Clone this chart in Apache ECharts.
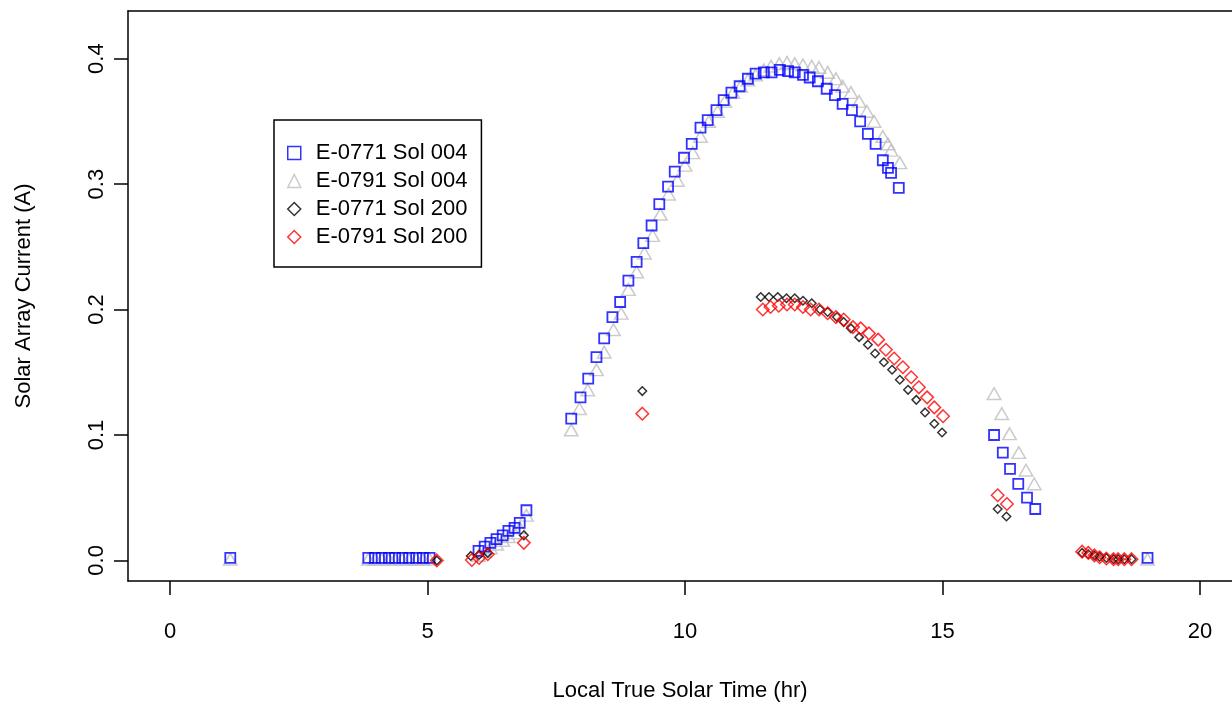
<!DOCTYPE html>
<html>
<head>
<meta charset="utf-8">
<title>Solar Array Current</title>
<script src="https://cdn.jsdelivr.net/npm/echarts@6/dist/echarts.min.js"></script>
<style>
  html, body { margin: 0; padding: 0; background: #fff; }
  #chart { width: 1232px; height: 703px; }
</style>
</head>
<body>
<div id="chart"></div>
<script>
// Tick positions on both axes
const timeTicks = [0, 5, 10, 15, 20];
const currentTicks = [0, 0.1, 0.2, 0.3, 0.4];

// E-0771, Sol 004
const time0771s004 = [
  1.17,
  3.85, 3.98, 4.11, 4.25, 4.37, 4.51, 4.64, 4.78, 4.91, 5.04,
  5.99, 6.11, 6.22, 6.34, 6.46, 6.57, 6.69, 6.79, 6.92,
  7.79, 7.97, 8.12, 8.28, 8.43, 8.59, 8.74, 8.90, 9.06, 9.19, 9.35, 9.50, 9.67, 9.80,
  9.98, 10.13, 10.30, 10.44, 10.61, 10.75, 10.90, 11.06, 11.22, 11.37, 11.53, 11.68,
  11.84, 12.00, 12.13, 12.29, 12.42, 12.58, 12.75, 12.91, 13.06, 13.24, 13.40, 13.55,
  13.70, 13.84, 13.94, 14.00, 14.15,
  16.00, 16.17, 16.31, 16.47, 16.64, 16.80,
  18.98
];
const current0771s004 = [
  0.002,
  0.002, 0.002, 0.002, 0.002, 0.002, 0.002, 0.002, 0.002, 0.002, 0.002,
  0.0076, 0.011, 0.014, 0.017, 0.020, 0.0235, 0.026, 0.030, 0.040,
  0.113, 0.130, 0.145, 0.162, 0.177, 0.194, 0.206, 0.223, 0.238, 0.253, 0.267, 0.284, 0.298, 0.310,
  0.321, 0.332, 0.345, 0.351, 0.359, 0.367, 0.373, 0.378, 0.384, 0.388, 0.389, 0.389,
  0.391, 0.390, 0.389, 0.387, 0.385, 0.382, 0.376, 0.371, 0.364, 0.359, 0.350, 0.340,
  0.332, 0.319, 0.313, 0.309, 0.297,
  0.100, 0.086, 0.073, 0.061, 0.050, 0.041,
  0.002
];

// E-0791, Sol 004
const time0791s004 = [
  1.17,
  3.85, 3.98, 4.11, 4.25, 4.37, 4.51, 4.64, 4.78, 4.91, 5.04,
  5.99, 6.11, 6.22, 6.34, 6.46, 6.57, 6.69, 6.79, 6.92,
  7.79, 7.95, 8.11, 8.28, 8.43, 8.61, 8.76, 8.90, 9.06, 9.21, 9.37, 9.52, 9.68, 9.85,
  10.00, 10.15, 10.30, 10.46, 10.63, 10.77, 10.93, 11.08, 11.22, 11.37, 11.53, 11.67,
  11.83, 11.98, 12.13, 12.29, 12.46, 12.60, 12.77, 12.93, 13.06, 13.22, 13.38, 13.53,
  13.67, 13.84, 13.94, 14.00, 14.17,
  16.00, 16.15, 16.30, 16.48, 16.62, 16.78,
  18.98
];
const current0791s004 = [
  0.001,
  0.001, 0.001, 0.001, 0.001, 0.001, 0.001, 0.001, 0.001, 0.001, 0.001,
  0.004, 0.007, 0.010, 0.013, 0.016, 0.019, 0.022, 0.026, 0.036,
  0.104, 0.121, 0.136, 0.152, 0.166, 0.184, 0.197, 0.216, 0.230, 0.245, 0.259, 0.276, 0.292, 0.303,
  0.315, 0.325, 0.338, 0.350, 0.358, 0.366, 0.373, 0.378, 0.383, 0.387, 0.391, 0.394,
  0.396, 0.397, 0.396, 0.395, 0.394, 0.393, 0.389, 0.384, 0.378, 0.373, 0.366, 0.358,
  0.350, 0.338, 0.332, 0.327, 0.317,
  0.133, 0.117, 0.101, 0.086, 0.072, 0.061,
  0.001
];

// E-0771, Sol 200
const time0771s200 = [
  5.18, 5.84, 6.00, 6.17, 6.87,
  9.17,
  11.47, 11.63, 11.80, 11.97, 12.13, 12.29, 12.46, 12.62, 12.77, 12.95, 13.08, 13.22,
  13.38, 13.55, 13.69, 13.86, 14.02, 14.17, 14.33, 14.49, 14.66, 14.84, 14.99,
  16.07, 16.24,
  17.71, 17.83, 17.95, 18.05, 18.18, 18.32, 18.41, 18.53, 18.67
];
const current0771s200 = [
  0.000, 0.0036, 0.0044, 0.006, 0.020,
  0.135,
  0.210, 0.210, 0.210, 0.209, 0.209, 0.207, 0.205, 0.200, 0.198, 0.194, 0.190, 0.185,
  0.178, 0.172, 0.165, 0.158, 0.152, 0.144, 0.136, 0.128, 0.118, 0.109, 0.102,
  0.041, 0.035,
  0.006, 0.005, 0.004, 0.003, 0.002, 0.001, 0.001, 0.001, 0.001
];

// E-0791, Sol 200
const time0791s200 = [
  5.18, 5.86, 6.00, 6.17, 6.87,
  9.17,
  11.51, 11.66, 11.82, 11.98, 12.13, 12.29, 12.44, 12.60, 12.77, 12.93, 13.08, 13.26,
  13.41, 13.57, 13.75, 13.90, 14.06, 14.23, 14.39, 14.54, 14.70, 14.84, 15.01,
  16.07, 16.25,
  17.71, 17.83, 17.95, 18.05, 18.18, 18.32, 18.41, 18.53, 18.67
];
const current0791s200 = [
  0.000, 0.0004, 0.002, 0.005, 0.014,
  0.117,
  0.200, 0.202, 0.203, 0.204, 0.204, 0.202, 0.200, 0.200, 0.197, 0.194, 0.192, 0.186,
  0.185, 0.181, 0.176, 0.168, 0.161, 0.154, 0.146, 0.138, 0.130, 0.122, 0.115,
  0.052, 0.045,
  0.007, 0.006, 0.004, 0.0025, 0.0015, 0.001, 0.001, 0.001, 0.001
];

const seriesNames = ['E-0771 Sol 004', 'E-0791 Sol 004', 'E-0771 Sol 200', 'E-0791 Sol 200'];

const FONT = '"Liberation Sans", Arial, Helvetica, sans-serif';

function pairs(xs, ys) {
  return xs.map((x, i) => [x, ys[i]]);
}

function hollow(name, xs, ys, symbol, size, color, width, z) {
  return {
    name: name,
    type: 'scatter',
    data: pairs(xs, ys),
    symbol: symbol,
    symbolSize: size,
    z: z,
    itemStyle: { color: 'rgba(0,0,0,0)', borderColor: color, borderWidth: width },
    emphasis: { disabled: true },
    silent: true
  };
}

const frameLine = { show: true, onZero: false, lineStyle: { color: '#000', width: 1.5 } };

const chart = echarts.init(document.getElementById('chart'), null, { renderer: 'canvas' });

chart.setOption({
  animation: false,
  backgroundColor: '#ffffff',
  textStyle: { fontFamily: FONT },
  grid: { left: 128, top: 11, right: 0, bottom: 122, show: false,
    containLabel: false, outerBoundsMode: 'none' },
  xAxis: [{
    type: 'value',
    position: 'bottom',
    min: -0.816, max: 20.62,
    axisLine: frameLine,
    splitLine: { show: false },
    axisTick: { show: true, inside: false, length: 14, customValues: timeTicks,
      lineStyle: { color: '#000', width: 1.5 } },
    axisLabel: { customValues: timeTicks, margin: 40, fontSize: 22, color: '#000', fontFamily: FONT },
    name: 'Local True Solar Time (hr)',
    nameLocation: 'middle',
    nameGap: 99,
    nameTextStyle: { fontSize: 22, color: '#000', fontFamily: FONT }
  }, {
    // top edge of the plot frame
    type: 'value',
    position: 'top',
    min: -0.816, max: 20.62,
    axisLine: frameLine,
    axisTick: { show: false },
    axisLabel: { show: false },
    splitLine: { show: false }
  }],
  yAxis: {
    type: 'value',
    position: 'left',
    min: -0.0164, max: 0.438,
    axisLine: frameLine,
    splitLine: { show: false },
    axisTick: { show: true, inside: false, length: 14, customValues: currentTicks,
      lineStyle: { color: '#000', width: 1.5 } },
    axisLabel: { customValues: currentTicks, margin: 20, rotate: 90, fontSize: 22, color: '#000',
      fontFamily: FONT, formatter: v => v.toFixed(1) },
    name: 'Solar Array Current (A)',
    nameLocation: 'middle',
    nameGap: 93,
    nameRotate: 90,
    nameTextStyle: { fontSize: 22, color: '#000', fontFamily: FONT }
  },
  legend: {
    orient: 'vertical',
    left: 274, top: 120,
    padding: [22, 14, 19, 13],
    itemWidth: 13, itemHeight: 13, itemGap: 6,
    borderColor: '#000', borderWidth: 1.5, borderRadius: 0,
    backgroundColor: '#fff',
    textStyle: { fontSize: 22, lineHeight: 20, color: '#000', fontFamily: FONT, padding: [0, 0, 0, 10] },
    itemStyle: { borderWidth: 1.5 },
    selectedMode: false,
    data: seriesNames
  },
  series: [
    hollow(seriesNames[1], time0791s004, current0791s004, 'triangle', [13.5, 11.7], '#bebebe', 1.5, 2),
    hollow(seriesNames[0], time0771s004, current0771s004, 'rect', 10, '#0000ff', 1.8, 3),
    hollow(seriesNames[2], time0771s200, current0771s200, 'diamond', 8.5, '#000000', 1.5, 4),
    hollow(seriesNames[3], time0791s200, current0791s200, 'diamond', 12.5, '#ff0000', 1.5, 5)
  ]
});
</script>
</body>
</html>
